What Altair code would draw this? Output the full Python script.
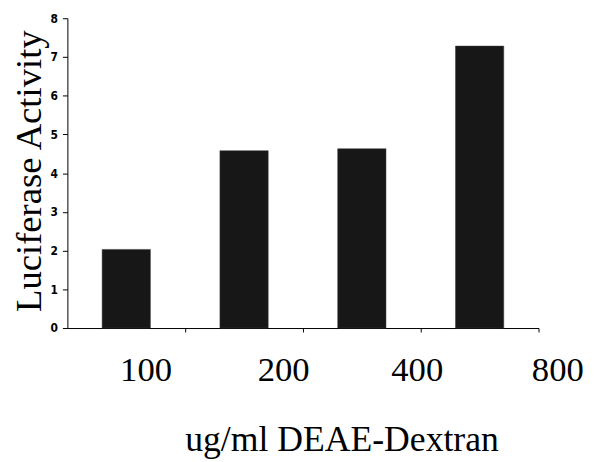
import altair as alt
import pandas as pd

doses = ["100", "200", "400", "800"]
activity = [2.03, 4.58, 4.63, 7.28]
label_shift = [-40, -20, -4, 19]

df = pd.DataFrame({"dose": doses, "activity": activity})

offset_cond = {
    "condition": [
        {"test": f"datum.value == '{d}'", "value": s}
        for d, s in zip(doses[:-1], label_shift[:-1])
    ],
    "value": label_shift[-1],
}

chart = (
    alt.Chart(df)
    .mark_bar(color="#171717", stroke="#3a3a3a", strokeWidth=0.5)
    .encode(
        x=alt.X(
            "dose:O",
            sort=doses,
            scale=alt.Scale(paddingInner=0.59, paddingOuter=0.295),
            axis=alt.Axis(
                title="ug/ml DEAE-Dextran",
                grid=False,
                labelAngle=0,
                labelFont="Liberation Serif",
                labelFontSize=35,
                labelColor="black",
                labelPadding=21,
                labelOffset=offset_cond,
                tickOffset=59.5,
                tickSize=4,
                tickColor="black",
                domainColor="black",
                titleFont="Liberation Serif",
                titleFontSize=36,
                titleFontWeight="normal",
                titleColor="black",
                titleX=277,
                titleY=124,
                titleAlign="center",
                titleBaseline="alphabetic",
            ),
        ),
        y=alt.Y(
            "activity:Q",
            scale=alt.Scale(domain=[0, 8]),
            axis=alt.Axis(
                title="Luciferase Activity",
                values=list(range(0, 9)),
                grid=False,
                labelFont="DejaVu Sans Condensed, Liberation Sans Narrow, Liberation Sans",
                labelFontWeight="bold",
                labelFontSize=12,
                labelColor="black",
                labelPadding=5,
                tickSize=5,
                tickColor="black",
                domainColor="black",
                titleFont="Liberation Serif",
                titleFontSize=37,
                titleFontWeight="normal",
                titleColor="black",
                titleAngle=270,
                titleX=-27,
                titleY=154,
                titleAlign="center",
                titleBaseline="alphabetic",
            ),
        ),
    )
    .properties(
        width=476,
        height=313,
        background="white",
        autosize=alt.AutoSizeParams(type="none"),
        padding={"left": 60, "top": 8, "right": 50, "bottom": 130},
    )
    .configure_view(strokeWidth=0)
)

chart.save("out.html", embed_options={"renderer": "svg", "actions": False})
